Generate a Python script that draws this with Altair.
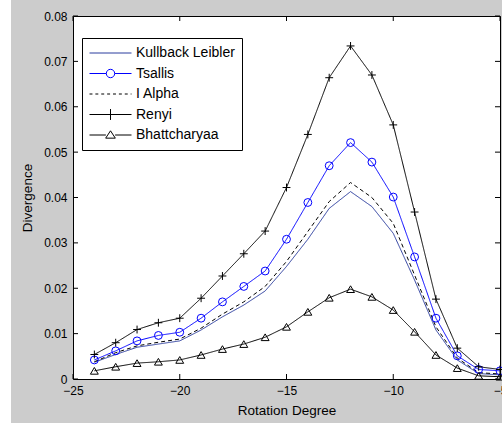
import altair as alt
import pandas as pd

# ---------------- data ----------------
degrees = [-24, -23, -22, -21, -20, -19, -18, -17, -16, -15,
           -14, -13, -12, -11, -10, -9, -8, -7, -6, -5]
kullback = [0.0037, 0.0054, 0.0070, 0.0077, 0.0084, 0.0108, 0.0137, 0.0163, 0.0194, 0.0248,
            0.0308, 0.0376, 0.0413, 0.0380, 0.0321, 0.0218, 0.0108, 0.0042, 0.0012, 0.0009]
tsallis = [0.0042, 0.0062, 0.0084, 0.0096, 0.0103, 0.0134, 0.0170, 0.0204, 0.0238, 0.0308,
           0.0389, 0.0470, 0.0521, 0.0478, 0.0401, 0.0269, 0.0134, 0.0051, 0.0021, 0.0018]
ialpha = [0.0038, 0.0058, 0.0073, 0.0081, 0.0088, 0.0112, 0.0143, 0.0170, 0.0204, 0.0259,
          0.0325, 0.0391, 0.0433, 0.0400, 0.0343, 0.0229, 0.0115, 0.0046, 0.0014, 0.0011]
renyi = [0.0054, 0.0080, 0.0109, 0.0124, 0.0134, 0.0178, 0.0227, 0.0276, 0.0326, 0.0422,
         0.0539, 0.0664, 0.0734, 0.0670, 0.0560, 0.0368, 0.0176, 0.0068, 0.0027, 0.0021]
bhatt = [0.0018, 0.0027, 0.0035, 0.0038, 0.0042, 0.0053, 0.0066, 0.0077, 0.0092, 0.0115,
         0.0148, 0.0179, 0.0198, 0.0181, 0.0152, 0.0104, 0.0053, 0.0024, 0.0007, 0.0005]

series_names = ["Kullback Leibler", "Tsallis", "I Alpha", "Renyi", "Bhattcharyaa"]
x_ticks = [-25, -20, -15, -10, -5]
y_ticks = [0, 0.01, 0.02, 0.03, 0.04, 0.05, 0.06, 0.07, 0.08]

# ---------------- tables ----------------
rows = []
for name, vals in zip(series_names, [kullback, tsallis, ialpha, renyi, bhatt]):
    for d, v in zip(degrees, vals):
        rows.append({"deg": d, "val": v, "series": name})
df = pd.DataFrame(rows)
xt = pd.DataFrame({"t": x_ticks})
yt = pd.DataFrame({"t": y_ticks})

W, H = 427, 363
PAD_L, PAD_T, PAD_R, PAD_B = 73, 16, 2, 44
FONT = "Liberation Sans"
TICK = 5

xscale = alt.Scale(domain=[-25, -5], nice=False, zero=False)
yscale = alt.Scale(domain=[0, 0.08], nice=False)

colors = ["#2a3c9e", "#0000ff", "#000000", "#000000", "#000000"]
dscale = alt.Scale(domain=series_names, range=[[1, 0], [1, 0], [4, 3], [1, 0], [1, 0]])

plus_path = "M-1,0H1M0,-1V1"
tri_path = "M0,-0.85L1,0.85L-1,0.85Z"
marker_names = ["Tsallis", "Renyi", "Bhattcharyaa"]
mscale = alt.Scale(domain=marker_names, range=["circle", plus_path, tri_path])

# legend glyphs: line with marker in the middle (unit box -1..1)
r = 0.2
leg_paths = [
    "M-1,0H1",
    f"M-1,0H-{r}M{r},0H1M-{r},0A{r},{r} 0 1,0 {r},0A{r},{r} 0 1,0 -{r},0",
    "M-1,0H-0.86M-0.72,0H-0.58M-0.44,0H-0.3M-0.16,0H-0.02M0.12,0H0.26M0.4,0H0.54M0.68,0H0.82M0.96,0H1",
    "M-1,0H1M0,-0.26V0.26",
    "M-1,0H-0.22M0.22,0H1M0,-0.2L0.23,0.15L-0.23,0.15Z",
]
lscale = alt.Scale(domain=series_names, range=leg_paths)

xax = alt.Axis(values=x_ticks, ticks=False, grid=False, domain=False, format="d",
               labelFlush=False,
               labelFont=FONT, labelFontSize=12, labelColor="#000000", labelPadding=6,
               title="Rotation Degree", titleFont=FONT, titleFontSize=13.5,
               titleFontWeight="normal", titleColor="#000000", titleY=31,
               titleBaseline="middle")
yax = alt.Axis(values=y_ticks, ticks=False, grid=False, domain=False, labelFlush=False,
               labelExpr="datum.value == 0 ? '0' : format(datum.value, '.2f')",
               labelFont=FONT, labelFontSize=12, labelColor="#000000", labelPadding=6,
               title="Divergence", titleFont=FONT, titleFontSize=13.5,
               titleFontWeight="normal", titleColor="#000000", titleX=-46,
               titleBaseline="middle")

base = alt.Chart(df)

# white strip at the far left of the figure window (decoration)
strip = alt.Chart(xt).mark_rect(color="#ffffff", clip=False).encode(
    x=alt.value(-PAD_L), x2=alt.value(-PAD_L + 11),
    y=alt.value(-PAD_T), y2=alt.value(H + PAD_B),
)

lines = base.mark_line(strokeWidth=1).encode(
    x=alt.X("deg:Q", scale=xscale, axis=xax),
    y=alt.Y("val:Q", scale=yscale, axis=yax),
    color=alt.Color("series:N", scale=alt.Scale(domain=series_names, range=colors), legend=None),
    strokeDash=alt.StrokeDash("series:N", scale=dscale, legend=None),
    detail="series:N",
)

points = base.transform_filter(
    alt.FieldOneOfPredicate(field="series", oneOf=marker_names)
).mark_point(filled=False, strokeWidth=1, opacity=1, size=62).encode(
    x=alt.X("deg:Q", scale=xscale),
    y=alt.Y("val:Q", scale=yscale),
    color=alt.Color("series:N", scale=alt.Scale(domain=series_names, range=colors), legend=None),
    shape=alt.Shape("series:N", scale=mscale, legend=None),
)

leg_kwargs = dict(orient="none", legendX=9, legendY=22, title=None,
                  symbolSize=1764, clipHeight=16, rowPadding=4.5,
                  labelFont=FONT, labelFontSize=14, labelColor="#000000",
                  labelOffset=4, strokeColor="#000000", fillColor="#ffffff",
                  padding=7, symbolStrokeWidth=1)

legend_layer = base.transform_filter("false").mark_point(
    filled=False, strokeWidth=1, opacity=1
).encode(
    x=alt.X("deg:Q", scale=xscale),
    y=alt.Y("val:Q", scale=yscale),
    color=alt.Color("series:N", scale=alt.Scale(domain=series_names, range=colors),
                    legend=alt.Legend(**leg_kwargs)),
    shape=alt.Shape("series:N", scale=lscale, legend=alt.Legend(**leg_kwargs)),
)

xt_bottom = alt.Chart(xt).mark_rule(color="#000000", strokeWidth=1).encode(
    x=alt.X("t:Q", scale=xscale), y=alt.value(H), y2=alt.value(H - TICK))
xt_top = alt.Chart(xt).mark_rule(color="#000000", strokeWidth=1).encode(
    x=alt.X("t:Q", scale=xscale), y=alt.value(0), y2=alt.value(TICK))
yt_left = alt.Chart(yt).mark_rule(color="#000000", strokeWidth=1).encode(
    y=alt.Y("t:Q", scale=yscale), x=alt.value(0), x2=alt.value(TICK))
yt_right = alt.Chart(yt).mark_rule(color="#000000", strokeWidth=1).encode(
    y=alt.Y("t:Q", scale=yscale), x=alt.value(W), x2=alt.value(W - TICK))

chart = alt.layer(
    strip, xt_bottom, xt_top, yt_left, yt_right, lines, points, legend_layer
).resolve_scale(
    shape="independent", color="independent"
).properties(
    width=W, height=H,
    autosize=alt.AutoSizeParams(type="none"),
    padding={"left": PAD_L, "top": PAD_T, "right": PAD_R, "bottom": PAD_B},
    background="#cccccc",
).configure_view(
    stroke="#000000", strokeWidth=1, fill="#ffffff"
)

chart.save("out.html", embed_options={"renderer": "svg", "actions": False})
